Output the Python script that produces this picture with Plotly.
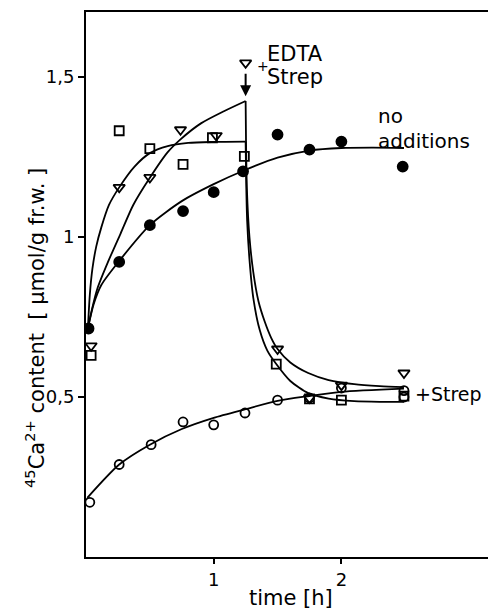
import plotly.graph_objects as go

# 45Ca2+ uptake time course (time in h, content in umol/g fresh weight)

# no additions (filled circles)
t_none = [0.02, 0.26, 0.5, 0.76, 1.0, 1.23, 1.5, 1.75, 2.0, 2.48]
y_none = [0.714, 0.922, 1.037, 1.081, 1.14, 1.205, 1.32, 1.273, 1.298, 1.22]
fit_t_none = [0.015, 0.06, 0.12, 0.25, 0.5, 0.75, 1.0, 1.25, 1.5, 1.75, 2.0, 2.25, 2.49]
fit_y_none = [0.715, 0.79, 0.85, 0.92, 1.037, 1.112, 1.165, 1.21, 1.248, 1.27, 1.278, 1.279, 1.278]

# +Strep from the start (open circles)
t_strep = [0.03, 0.26, 0.51, 0.76, 1.0, 1.245, 1.5, 1.75, 2.0, 2.49, 2.49]
y_strep = [0.171, 0.289, 0.351, 0.422, 0.413, 0.45, 0.49, 0.497, 0.528, 0.52, 0.50]
fit_t_strep = [0.01, 0.26, 0.5, 0.75, 1.0, 1.25, 1.5, 1.75, 2.0, 2.49]
fit_y_strep = [0.185, 0.289, 0.351, 0.40, 0.435, 0.462, 0.488, 0.503, 0.516, 0.526]

# triangles: EDTA + Strep added at 1.25 h
t_tri = [0.04, 0.26, 0.5, 0.74, 1.02, 1.5, 1.75, 2.0, 2.49]
y_tri = [0.66, 1.155, 1.186, 1.335, 1.317, 0.65, 0.497, 0.537, 0.575]
fit_t_tri_up = [0.015, 0.05, 0.09, 0.17, 0.27, 0.37, 0.5, 0.64, 0.74, 0.9, 1.08, 1.25]
fit_y_tri_up = [0.715, 0.78, 0.84, 0.92, 1.01, 1.10, 1.185, 1.265, 1.305, 1.355, 1.393, 1.425]
fit_t_tri_dn = [1.25, 1.253, 1.26, 1.28, 1.31, 1.35, 1.40, 1.45, 1.5, 1.6, 1.74, 1.9, 2.1, 2.3, 2.49]
fit_y_tri_dn = [1.425, 1.30, 1.15, 1.0, 0.89, 0.80, 0.735, 0.685, 0.65, 0.608, 0.575, 0.553, 0.54, 0.534, 0.531]

# squares
t_sq = [0.04, 0.26, 0.5, 0.76, 0.99, 1.24, 1.49, 1.75, 2.0, 2.49]
y_sq = [0.63, 1.332, 1.276, 1.227, 1.31, 1.252, 0.603, 0.494, 0.49, 0.503]
fit_t_sq_up = [0.015, 0.03, 0.05, 0.08, 0.12, 0.18, 0.26, 0.38, 0.5, 0.64, 0.8, 1.0, 1.25]
fit_y_sq_up = [0.715, 0.82, 0.90, 0.97, 1.03, 1.10, 1.155, 1.22, 1.262, 1.284, 1.294, 1.297, 1.298]
fit_t_sq_dn = [1.25, 1.254, 1.262, 1.28, 1.31, 1.36, 1.42, 1.49, 1.6, 1.74, 1.9, 2.1, 2.3, 2.49]
fit_y_sq_dn = [1.298, 1.18, 1.05, 0.93, 0.81, 0.71, 0.645, 0.603, 0.55, 0.512, 0.495, 0.487, 0.485, 0.485]

y_ticks = [0.5, 1.0, 1.5]
y_tick_text = ["0,5", "1", "1,5"]
x_ticks = [1, 2]
x_tick_text = ["1", "2"]

FONT = "DejaVu Sans"
LW = 1.8

fig = go.Figure()


def curve(x, y):
    fig.add_trace(go.Scatter(x=x, y=y, mode="lines",
                             line=dict(color="black", width=LW, shape="spline", smoothing=0.7),
                             hoverinfo="skip", showlegend=False))


def points(x, y, symbol, size):
    fig.add_trace(go.Scatter(x=x, y=y, mode="markers",
                             marker=dict(symbol=symbol, size=size, color="black",
                                         line=dict(color="black", width=1.8)),
                             showlegend=False))


curve(fit_t_none, fit_y_none)
curve(fit_t_strep, fit_y_strep)
curve(fit_t_tri_up, fit_y_tri_up)
curve(fit_t_tri_dn, fit_y_tri_dn)
curve(fit_t_sq_up, fit_y_sq_up)
curve(fit_t_sq_dn, fit_y_sq_dn)

points(t_sq, y_sq, "square-open", 9)
points(t_tri, y_tri, "triangle-down-open", 10)
points(t_strep, y_strep, "circle-open", 9)
points(t_none, y_none, "circle", 10)

# symbol next to the addition arrow
fig.add_trace(go.Scatter(x=[1.25], y=[1.544], mode="markers",
                         marker=dict(symbol="triangle-down-open", size=10, color="black",
                                     line=dict(color="black", width=1.8)),
                         showlegend=False, hoverinfo="skip"))

ann_font = dict(family=FONT, size=21, color="black")
lbl_font = dict(family=FONT, size=20, color="black")
annotations = [
    # addition arrow
    dict(x=1.25, y=1.44, xref="x", yref="y", ax=0, ay=-24, showarrow=True,
         arrowhead=2, arrowsize=1.1, arrowwidth=2, arrowcolor="black", text=""),
    dict(x=1.322, y=1.535, xref="x", yref="y", text="+", showarrow=False,
         xanchor="left", yanchor="middle", font=dict(family=FONT, size=14, color="black")),
    dict(x=1.40, y=1.572, xref="x", yref="y", text="EDTA", showarrow=False,
         xanchor="left", yanchor="middle", font=ann_font),
    dict(x=1.40, y=1.50, xref="x", yref="y", text="Strep", showarrow=False,
         xanchor="left", yanchor="middle", font=ann_font),
    dict(x=2.27, y=1.378, xref="x", yref="y", text="no", showarrow=False,
         xanchor="left", yanchor="middle", font=lbl_font),
    dict(x=2.27, y=1.30, xref="x", yref="y", text="additions", showarrow=False,
         xanchor="left", yanchor="middle", font=lbl_font),
    dict(x=2.56, y=0.509, xref="x", yref="y", text="+Strep", showarrow=False,
         xanchor="left", yanchor="middle", font=dict(family=FONT, size=19, color="black")),
    # axis titles
    dict(x=0.51, y=-0.075, xref="paper", yref="paper", text="time [h]", showarrow=False,
         xanchor="center", yanchor="middle", font=ann_font),
    dict(x=-0.127, y=0.42, xref="paper", yref="paper",
         text="<sup>45</sup>Ca<sup>2+</sup> content  [ µmol/g fr.w. ]",
         textangle=-90, showarrow=False, xanchor="center", yanchor="middle", font=ann_font),
]

fig.update_layout(
    width=488, height=611,
    margin=dict(l=86, r=0, t=12, b=54),
    paper_bgcolor="white", plot_bgcolor="white",
    font=dict(family=FONT, size=18, color="black"),
    annotations=annotations,
    showlegend=False,
)
fig.update_xaxes(range=[0, 3.148], showgrid=False, zeroline=False,
                 showline=True, linecolor="black", linewidth=2, mirror=True,
                 tickmode="array", tickvals=x_ticks, ticktext=x_tick_text,
                 ticks="outside", ticklen=5, tickwidth=1.5, tickcolor="black")
fig.update_yaxes(range=[0, 1.703], showgrid=False, zeroline=False,
                 showline=True, linecolor="black", linewidth=2,
                 tickmode="array", tickvals=y_ticks, ticktext=y_tick_text,
                 ticks="outside", ticklen=6, tickwidth=1.5, tickcolor="black")

fig.write_html("out.html")
